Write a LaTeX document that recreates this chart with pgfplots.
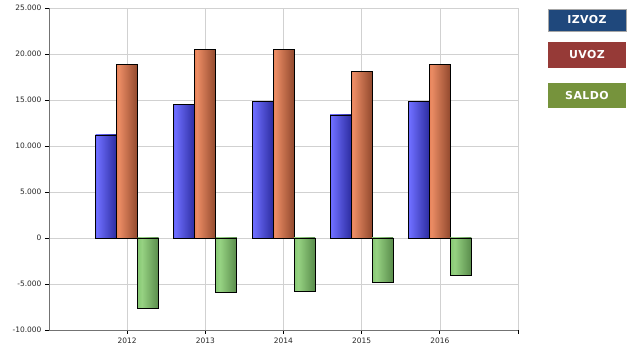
\documentclass[border=0pt]{standalone}
\usepackage{pgfplots}
\pgfplotsset{compat=1.18}
\usepackage{fontspec}
\setmainfont{DejaVu Sans}
\newfontfamily\legfont[LetterSpace=4]{DejaVu Sans}
\definecolor{izvoz}{HTML}{1F487C}
\definecolor{uvoz}{HTML}{963A37}
\definecolor{saldo}{HTML}{76933C}
\pgfdeclarehorizontalshading{blueshade}{100bp}{color(0bp)=(rgb,255:red,35;green,35;blue,240); color(28bp)=(rgb,255:red,110;green,110;blue,255); color(100bp)=(rgb,255:red,10;green,10;blue,110)}
\pgfdeclarehorizontalshading{orangeshade}{100bp}{color(0bp)=(rgb,255:red,220;green,80;blue,30); color(30bp)=(rgb,255:red,235;green,140;blue,100); color(100bp)=(rgb,255:red,95;green,35;blue,15)}
\pgfdeclarehorizontalshading{greenshade}{100bp}{color(0bp)=(rgb,255:red,95;green,175;blue,80); color(35bp)=(rgb,255:red,150;green,210;blue,130); color(100bp)=(rgb,255:red,50;green,95;blue,40)}
\pgfplotsset{
  izbar/.style={ybar, bar width=21bp, bar shift=-21bp, draw=black, line width=0.7pt, shading=blueshade},
  uvbar/.style={ybar, bar width=21bp, bar shift=0bp, draw=black, line width=0.7pt, shading=orangeshade},
  sabar/.style={ybar, bar width=21bp, bar shift=21bp, draw=black, line width=0.7pt, shading=greenshade},
}
\begin{document}
\begin{tikzpicture}
\path (0,0) rectangle (627bp,360bp);
\begin{axis}[
  at={(49bp,30bp)}, anchor=south west,
  scale only axis, width=469bp, height=322bp,
  xmin=0, xmax=6, ymin=-10000, ymax=25000,
  xtick={1,2,3,4,5}, xticklabels={2012,2013,2014,2015,2016},
  extra x ticks={6}, extra x tick labels={},
  ytick={-10000,-5000,...,25000},
  scaled y ticks=false,
  /pgf/number format/.cd, 1000 sep={.}, assume math mode=true, /pgfplots/.cd,
  tick label style={font=\fontsize{7.5}{9}\selectfont, text=black!85},
  grid=major, major grid style={draw=black!18, line width=0.6pt},
  axis lines*=left, axis line style={draw=black!55, line width=0.8pt, -},
  tick style={draw=black, line width=0.8pt}, tick align=outside, major tick length=4bp,
  clip=false,
]
% IZVOZ
\addplot[izbar] coordinates {(1,11200)};
\addplot[izbar] coordinates {(2,14560)};
\addplot[izbar] coordinates {(3,14890)};
\addplot[izbar] coordinates {(4,13370)};
\addplot[izbar] coordinates {(5,14890)};
% UVOZ
\addplot[uvbar] coordinates {(1,18900)};
\addplot[uvbar] coordinates {(2,20510)};
\addplot[uvbar] coordinates {(3,20500)};
\addplot[uvbar] coordinates {(4,18150)};
\addplot[uvbar] coordinates {(5,18880)};
% SALDO
\addplot[sabar] coordinates {(1,-7700)};
\addplot[sabar] coordinates {(2,-5960)};
\addplot[sabar] coordinates {(3,-5830)};
\addplot[sabar] coordinates {(4,-4800)};
\addplot[sabar] coordinates {(5,-4090)};
\end{axis}
\begin{scope}[every node/.style={minimum width=78bp, minimum height=23bp, inner sep=0pt, text=white, font=\legfont\bfseries\fontsize{11}{13}\selectfont}]
\node[fill=izvoz, draw=black!35, line width=0.8pt, minimum height=22bp] at (587bp,340bp) {IZVOZ};
\node[fill=uvoz, minimum height=26bp] at (587bp,305bp) {UVOZ};
\node[fill=saldo, minimum height=25bp] at (587bp,264.5bp) {SALDO};
\end{scope}
\end{tikzpicture}
\end{document}
